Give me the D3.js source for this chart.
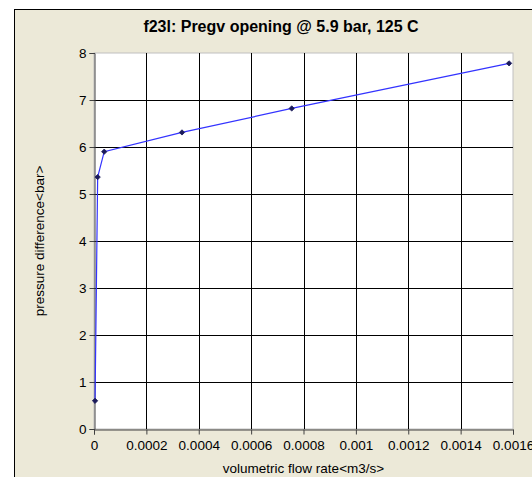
<!DOCTYPE html>
<html><head><meta charset="utf-8">
<script src="https://cdn.jsdelivr.net/npm/d3@7"></script>
<style>body{margin:0;background:#fff;}svg{display:block;}</style>
</head><body>
<script>
const flowRate = [0.000004, 0.000014, 0.000039, 0.000336, 0.000755, 0.001585];
const pressureDiff = [0.6, 5.36, 5.9, 6.31, 6.82, 7.78];
const xTicks = [0, 0.0002, 0.0004, 0.0006, 0.0008, 0.001, 0.0012, 0.0014, 0.0016];
const xTickLabels = ["0", "0.0002", "0.0004", "0.0006", "0.0008", "0.001", "0.0012", "0.0014", "0.0016"];
const yTicks = [0, 1, 2, 3, 4, 5, 6, 7, 8];
const titleText = "f23l: Pregv opening @ 5.9 bar, 125 C";
const xLabel = "volumetric flow rate<m3/s>";
const yLabel = "pressure difference<bar>";

const W = 532, H = 477;
const svg = d3.select("body").append("svg").attr("width", W).attr("height", H);
const font = "'Liberation Sans', Arial, sans-serif";

svg.append("rect").attr("x", 14.5).attr("y", 9.5).attr("width", W).attr("height", H)
  .attr("fill", "#ECE9D8").attr("stroke", "#000").attr("stroke-width", 1);

const L = 94, R = 513, T = 53, B = 429;
const x = d3.scaleLinear().domain([0, 0.0016]).range([L, R]);
const y = d3.scaleLinear().domain([0, 8]).range([B, T]);

svg.append("rect").attr("x", L).attr("y", T).attr("width", R - L).attr("height", B - T)
  .attr("fill", "#fff").attr("stroke", "#c0c0c0");

// gridlines
const g = svg.append("g");
g.selectAll(".vg").data(xTicks.slice(1, -1)).join("line")
  .attr("x1", d => Math.round(x(d)) + 0.5).attr("x2", d => Math.round(x(d)) + 0.5)
  .attr("y1", T).attr("y2", B).attr("stroke", "#000");
g.selectAll(".hg").data(yTicks.slice(1, -1)).join("line")
  .attr("y1", d => Math.round(y(d)) + 0.5).attr("y2", d => Math.round(y(d)) + 0.5)
  .attr("x1", L).attr("x2", R).attr("stroke", "#000");

// axes
const xAxis = d3.axisBottom(x).tickValues(xTicks).tickFormat((d, i) => xTickLabels[i]).tickSize(5).tickPadding(6);
const yAxis = d3.axisLeft(y).tickValues(yTicks).tickFormat(d3.format("d")).tickSize(5).tickPadding(3);
const gx = svg.append("g").attr("transform", `translate(0,${B + 0.5})`).call(xAxis);
const gy = svg.append("g").attr("transform", `translate(${L + 0.5},0)`).call(yAxis);
[gx, gy].forEach(a => {
  a.select(".domain").attr("stroke", "#404040");
  a.selectAll(".tick line").attr("stroke", "#404040");
  a.selectAll("text").attr("font-family", font).attr("font-size", 13.5).attr("fill", "#000");
});

// line
svg.append("path").datum(flowRate.map((v, i) => [v, pressureDiff[i]]))
  .attr("d", d3.line().x(d => x(d[0])).y(d => y(d[1])))
  .attr("fill", "none").attr("stroke", "#3333ff").attr("stroke-width", 1.2);

// markers
svg.selectAll(".pt").data(flowRate.map((v, i) => [v, pressureDiff[i]])).join("path")
  .attr("d", d3.symbol(d3.symbolSquare, 14))
  .attr("transform", d => `translate(${x(d[0])},${y(d[1])}) rotate(45)`)
  .attr("fill", "#1a1a5a").attr("stroke", "#1a1a5a").attr("stroke-width", 0.8);

// title and labels
svg.append("text").attr("x", 281).attr("y", 32).attr("text-anchor", "middle")
  .attr("font-family", font).attr("font-weight", "bold").attr("font-size", 16).text(titleText);
svg.append("text").attr("x", (L + R) / 2).attr("y", 473).attr("text-anchor", "middle")
  .attr("font-family", font).attr("font-size", 13.5).text(xLabel);
svg.append("text").attr("transform", `translate(44,${(T + B) / 2}) rotate(-90)`).attr("text-anchor", "middle")
  .attr("font-family", font).attr("font-size", 13.5).text(yLabel);
</script>
</body></html>
